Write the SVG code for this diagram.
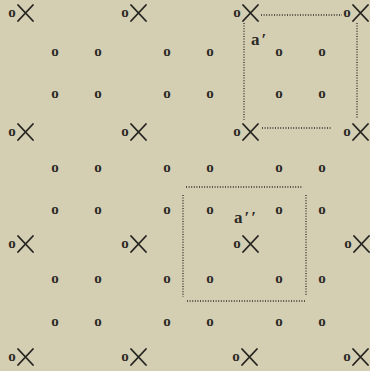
<svg xmlns="http://www.w3.org/2000/svg" xmlns:xlink="http://www.w3.org/1999/xlink" width="370" height="371" viewBox="0 0 370 371">
<style>
.o{font-family:"Liberation Serif","DejaVu Serif",serif;font-size:15px;font-weight:bold;fill:#2b2a26;text-anchor:middle}
.lbl{font-family:"Liberation Serif","DejaVu Serif",serif;font-size:17px;font-weight:bold;fill:#2b2a26;letter-spacing:2px}
.x{stroke:#24231f;stroke-width:1.8;fill:none;stroke-linecap:round}
.dot{stroke:#2b2a26;stroke-width:1.3;stroke-dasharray:1 1.6;fill:none}
</style>
<defs>
<g id="cross"><text class="o" x="-13" y="3.5">o</text><path class="x" d="M-7,-8 L8,8 M-7,8 L8,-8"/></g>
</defs>
<rect width="370" height="371" fill="#d4ceb2"/>
<g id="crosses">
<use xlink:href="#cross" x="25" y="13"/><use xlink:href="#cross" x="138" y="13"/><use xlink:href="#cross" x="250" y="13"/><use xlink:href="#cross" x="360" y="13"/>
<use xlink:href="#cross" x="25" y="132"/><use xlink:href="#cross" x="138" y="132"/><use xlink:href="#cross" x="250" y="132"/><use xlink:href="#cross" x="360" y="132"/>
<use xlink:href="#cross" x="25" y="244"/><use xlink:href="#cross" x="138" y="244"/><use xlink:href="#cross" x="250" y="244"/><use xlink:href="#cross" x="361" y="244"/>
<use xlink:href="#cross" x="25" y="357"/><use xlink:href="#cross" x="138" y="357"/><use xlink:href="#cross" x="249" y="357"/><use xlink:href="#cross" x="360" y="357"/>
</g>
<g id="points">
<text class="o" x="55" y="55.5">o</text><text class="o" x="98" y="55.5">o</text><text class="o" x="167" y="55.5">o</text><text class="o" x="210" y="55.5">o</text><text class="o" x="279" y="55.5">o</text><text class="o" x="322" y="55.5">o</text>
<text class="o" x="55" y="97.5">o</text><text class="o" x="98" y="97.5">o</text><text class="o" x="167" y="97.5">o</text><text class="o" x="210" y="97.5">o</text><text class="o" x="279" y="97.5">o</text><text class="o" x="322" y="97.5">o</text>
<text class="o" x="55" y="171.5">o</text><text class="o" x="98" y="171.5">o</text><text class="o" x="167" y="171.5">o</text><text class="o" x="210" y="171.5">o</text><text class="o" x="279" y="171.5">o</text><text class="o" x="322" y="171.5">o</text>
<text class="o" x="55" y="213.5">o</text><text class="o" x="98" y="213.5">o</text><text class="o" x="167" y="213.5">o</text><text class="o" x="210" y="213.5">o</text><text class="o" x="279" y="213.5">o</text><text class="o" x="322" y="213.5">o</text>
<text class="o" x="55" y="282.5">o</text><text class="o" x="98" y="282.5">o</text><text class="o" x="167" y="282.5">o</text><text class="o" x="210" y="282.5">o</text><text class="o" x="279" y="282.5">o</text><text class="o" x="322" y="282.5">o</text>
<text class="o" x="55" y="325.5">o</text><text class="o" x="98" y="325.5">o</text><text class="o" x="167" y="325.5">o</text><text class="o" x="210" y="325.5">o</text><text class="o" x="279" y="325.5">o</text><text class="o" x="322" y="325.5">o</text>
</g>
<g id="cell-a1">
<path class="dot" d="M261,15 H342 M244,23 V120 M357,23 V118 M262,128 H332"/>
<text class="lbl" x="251" y="45">a′</text>
</g>
<g id="cell-a2">
<path class="dot" d="M186,187 H303 M183,195 V297 M306,195 V295 M187,301 H305"/>
<text class="lbl" x="234" y="223">a′′</text>
</g>
</svg>
